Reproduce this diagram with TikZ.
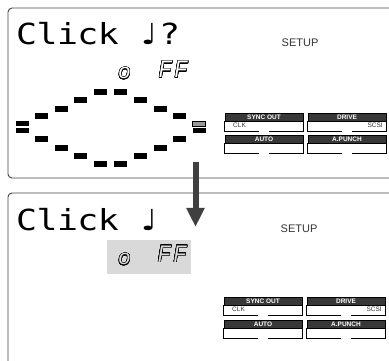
\documentclass[tikz,border=0pt]{standalone}
\usepackage{fontspec}
\usepackage{graphicx}
\usepackage{contour}
\usetikzlibrary{arrows.meta}
\setmainfont{Liberation Sans}
\newfontfamily\lcdfont{DejaVu Sans Mono}
\newfontfamily\notefont{DejaVu Sans}
\newfontfamily\segfont{Liberation Sans}
\definecolor{panelline}{HTML}{444444}
\definecolor{hdrfill}{HTML}{383838}
\definecolor{hilite}{HTML}{D9D9D9}
\definecolor{arrowc}{HTML}{404040}
\definecolor{txtgray}{HTML}{333333}
\contourlength{0.55pt}
\contournumber{24}
\newcommand\lcdcell[1]{\makebox[17pt][c]{#1}}
\newcommand\lcdline[1]{\scalebox{1.2}[1]{\fontsize{29}{29}\lcdfont #1}}
\newcommand\segtxt[3]{\contour{black}{\textcolor{#1}{\fontsize{#2}{#2}\segfont\itshape #3}}}
\tikzset{
  panel/.style={draw=panelline, line width=0.9pt, rounded corners=4pt},
  lcdseg/.style={fill=black, minimum width=13pt, minimum height=6pt, inner sep=0pt},
  lcdsegs/.style={lcdseg, minimum height=5pt},
  lcdsegg/.style={lcdsegs, fill=black!40, draw=black, line width=0.5pt},
  hdr/.style={fill=hdrfill, draw=black, line width=0.5pt, minimum width=78pt, minimum height=8pt, inner sep=0pt,
    text=white, font=\fontsize{6.5}{6.5}\selectfont\bfseries},
  keyline/.style={draw=black, line width=0.8pt},
  small/.style={inner sep=0pt, text=txtgray, font=\fontsize{6.5}{6.5}\selectfont},
  setup/.style={inner sep=0pt, text=txtgray, font=\fontsize{11}{11}\selectfont},
}
\newcommand\keybox[4]{%
  \node[hdr] (#1) at (#2,#3) {#4};
  \draw[keyline] (#1.south west) -- ++(0,10) -- ++(34,0);
  \draw[keyline] ([xshift=44pt,yshift=-10pt]#1.south west) -- ([yshift=-10pt]#1.south east) -- (#1.south east);
}
\begin{document}
\begin{tikzpicture}[x=1pt,y=-1pt]
\useasboundingbox (0,0) rectangle (389,361);
% panels
\draw[panel] (389,8) -- (8,8) -- (8,178) -- (389,178);
\draw[panel] (389,193) -- (8,193) -- (8,361);
% ---------- top panel ----------
\node[anchor=base west, inner sep=0pt] (title1) at (16.3,45)
  {\lcdline{\lcdcell{C}\lcdcell{l}\lcdcell{i}\lcdcell{c}\lcdcell{k}\lcdcell{}\lcdcell{\notefont\bfseries ♩}\lcdcell{?}}};
\node[anchor=base, inner sep=0pt] (o1) at (124.5,79) {\segtxt{white}{21}{o}};
\node[anchor=base, inner sep=0pt] (ff1) at (173,78) {\segtxt{white}{24}{\scalebox{0.85}[1]{F\,F}}};
\node[setup] (setup1) at (300,43) {SETUP};
\foreach \x/\y [count=\i] in {100/92,120/92,80/100,140/100,61/109,160/109,41.5/116,179/116,
  41.5/139,179/139,61/148,160/148,80/156,140/156,100/164,120/164}
  \node[lcdseg] (d\i) at (\x,\y) {};
\node[lcdsegs] (dl1) at (22,123.5) {};
\node[lcdsegs] (dl2) at (22,130.5) {};
\node[lcdsegg] (dr1) at (199,123.5) {};
\node[lcdsegs] (dr2) at (199,131) {};
\keybox{sync1}{264}{117}{SYNC OUT}
\keybox{drive1}{347}{117}{DRIVE}
\keybox{auto1}{264}{139}{AUTO}
\keybox{punch1}{347}{139}{A.PUNCH}
\node[small, anchor=base west] (clk1) at (233,128) {CLK};
\node[small, anchor=base east] (scsi1) at (383,128) {SCSI};
% ---------- bottom panel ----------
\node[fill=hilite, minimum width=84pt, minimum height=34pt, inner sep=0pt] (hl) at (149,257) {};
\node[anchor=base west, inner sep=0pt] (title2) at (16.3,230)
  {\lcdline{\lcdcell{C}\lcdcell{l}\lcdcell{i}\lcdcell{c}\lcdcell{k}\lcdcell{}\lcdcell{\notefont\bfseries ♩}}};
\node[anchor=base, inner sep=0pt] (o2) at (124.5,265) {\segtxt{hilite}{21}{o}};
\node[anchor=base, inner sep=0pt] (ff2) at (172,262) {\segtxt{hilite}{24}{\scalebox{0.85}[1]{F\,F}}};
\node[setup] (setup2) at (299,229) {SETUP};
\keybox{sync2}{263}{301}{SYNC OUT}
\keybox{drive2}{346}{301}{DRIVE}
\keybox{auto2}{263}{324}{AUTO}
\keybox{punch2}{346}{324}{A.PUNCH}
\node[small, anchor=base west] (clk2) at (232,312) {CLK};
\node[small, anchor=base east] (scsi2) at (382,312) {SCSI};
% arrow
\coordinate (arrS) at (195.5,162);
\coordinate (arrE) at (195.5,227);
\draw[arrowc, line width=6pt, -{Triangle[width=17pt,length=19pt]}] (arrS) -- (arrE);
\end{tikzpicture}
\end{document}
